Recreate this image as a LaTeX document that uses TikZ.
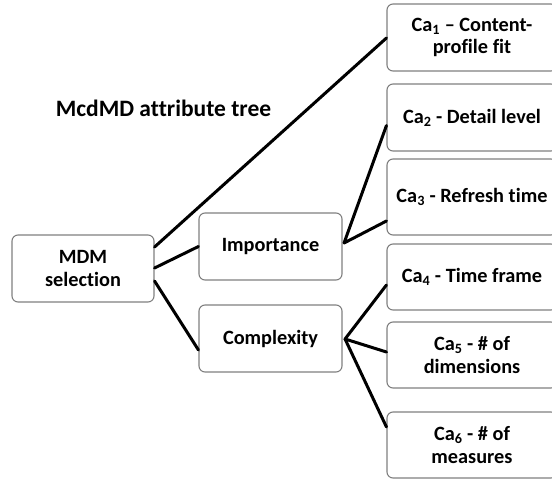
\documentclass[tikz,border=0pt]{standalone}
\usepackage{fontspec}
\setmainfont{Carlito}[Ligatures=NoCommon]
\usetikzlibrary{calc}
\tikzset{
  attr/.style={draw=black!50, line width=1.1pt, rounded corners=6pt, fill=white,
    align=center, font=\bfseries\fontsize{20.3}{22.5}\selectfont, inner sep=2pt},
  link/.style={line width=3pt, line cap=round, line join=round}
}
\begin{document}
\begin{tikzpicture}[x=1pt, y=-1pt]
  \useasboundingbox (0,0) rectangle (552,479);
  \clip (0,0) rectangle (552,479);
  \fill[white] (0,0) rectangle (552,479);

  % title
  \node[font=\bfseries\fontsize{23.5}{26}\selectfont] (title) at (163.5,108) {McdMD attribute tree};

  % root and intermediate criteria
  \node[attr, minimum width=142pt, minimum height=67pt] (mdm) at (83,268.5) {MDM\\selection};
  \node[attr, minimum width=143pt, minimum height=67pt] (imp) at (270.5,246.5) {Importance};
  \node[attr, minimum width=143pt, minimum height=67pt] (cpx) at (270.5,338.5) {Complexity};

  % leaf attributes
  \node[attr, minimum width=170pt, minimum height=67pt] (ca1) at (472,37.5) {Ca\textsubscript{1} – Content-\\profile fit};
  \node[attr, minimum width=170pt, minimum height=67pt] (ca2) at (472,117.5) {Ca\textsubscript{2} - Detail level};
  \node[attr, minimum width=170pt, minimum height=76pt] (ca3) at (472,197) {Ca\textsubscript{3} - Refresh time};
  \node[attr, minimum width=170pt, minimum height=66pt] (ca4) at (472,277) {Ca\textsubscript{4} - Time frame};
  \node[attr, minimum width=170pt, minimum height=66pt] (ca5) at (472,355) {Ca\textsubscript{5} - \# of\\dimensions};
  \node[attr, minimum width=170pt, minimum height=66pt] (ca6) at (472,445) {Ca\textsubscript{6} - \# of\\measures};

  % connectors
  \draw[link] ($(mdm.east)+(0,-21.5)$) -- ($(ca1.west)+(0,0.5)$);
  \draw[link] ($(mdm.east)+(0,-0.5)$) -- ($(imp.west)+(0,0)$);
  \draw[link] ($(mdm.east)+(0,12.5)$) -- ($(cpx.west)+(0,11.5)$);
  \coordinate (impfork) at ($(imp.east)+(1.5,-3.5)$);
  \draw[link] ($(ca2.west)+(0,8)$) -- (impfork) -- ($(ca3.west)+(0,24)$);
  \coordinate (cpxfork) at ($(cpx.east)+(2.5,0.5)$);
  \draw[link] ($(ca4.west)+(0,8)$) -- (cpxfork) -- ($(ca5.west)+(0,-3)$);
  \draw[link] (cpxfork) -- ($(ca6.west)+(0,-18)$);
\end{tikzpicture}
\end{document}
